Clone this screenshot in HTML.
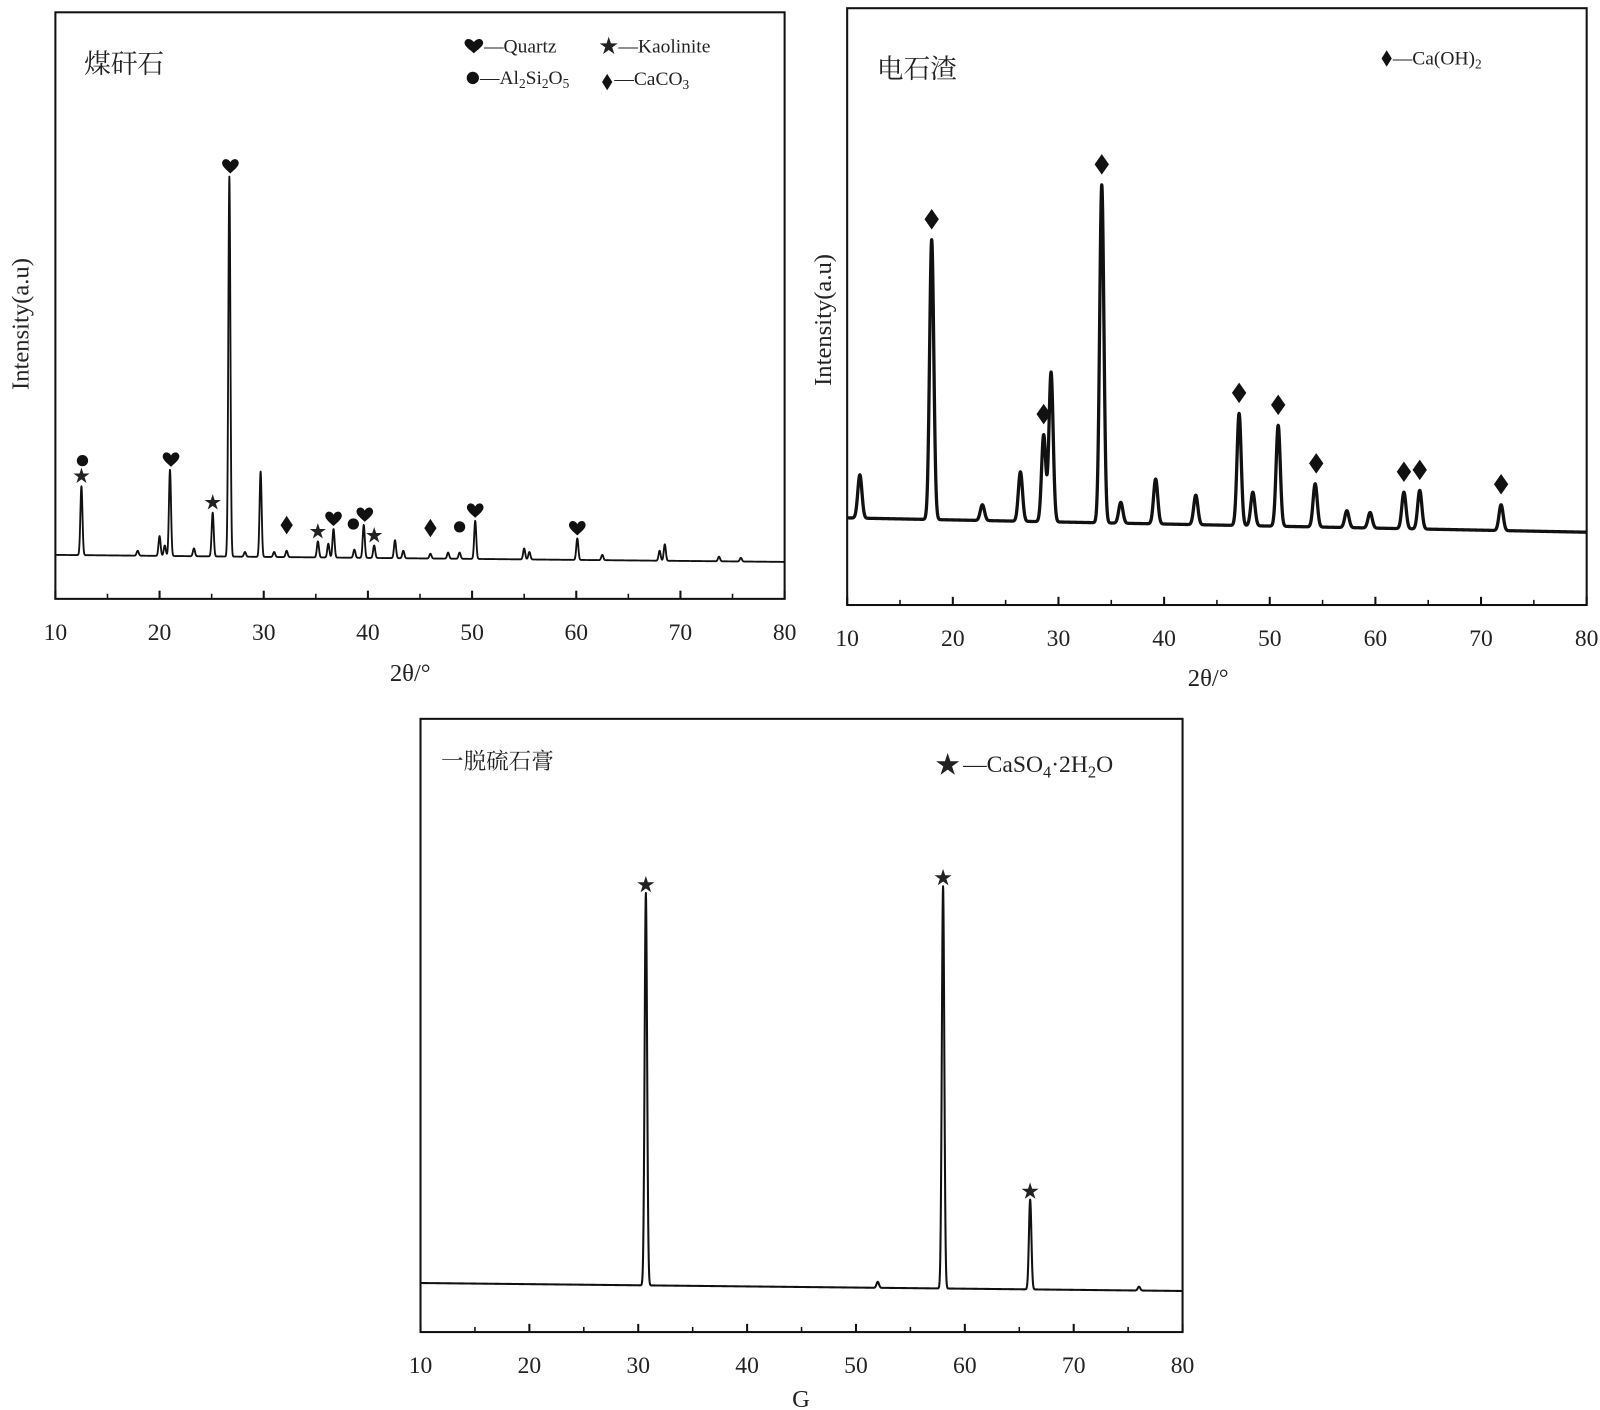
<!DOCTYPE html>
<html><head><meta charset="utf-8">
<style>
html,body{margin:0;padding:0;background:#fff;width:1600px;height:1410px;overflow:hidden}
svg{display:block}
text{font-family:"Liberation Serif","Noto Serif CJK SC",serif;fill:#222}
</style></head>
<body>
<svg id="fig" width="1600" height="1410" viewBox="0 0 1560 1375" preserveAspectRatio="none" xmlns="http://www.w3.org/2000/svg">
</svg>
<script>
// ---------- Panel 1: 煤矸石 ----------
const p1PeakPos = [12.5,17.9,20.0,20.5,21.0,23.3,25.1,26.7,28.2,29.7,31.0,32.2,35.2,36.2,36.7,38.7,39.6,40.6,42.6,43.4,46.0,47.7,48.8,50.3,55.0,55.5,60.1,62.5,68.0,68.5,73.7,75.8];
const p1PeakInt = [19.2,8.2,10.7,9.1,22.0,8.6,14.7,72.0,8.0,21.7,8.0,8.2,9.8,9.4,11.9,8.4,12.6,9.1,10.0,8.2,7.7,7.9,7.9,13.3,8.6,8.0,10.3,7.5,8.2,9.3,7.2,7.0];
const p1Base = [7.5,6.3];
const p1MarkPos = [12.5,12.6,21.1,25.1,26.8,32.2,35.2,36.7,38.6,39.7,40.6,46.0,48.8,50.3,60.1];
const p1MarkType = ['star','circle','heart','star','heart','diamond','star','heart','circle','heart','star','diamond','circle','heart','heart'];
const p1MarkStack = [0,1,0,0,0,1,0,0,1,0,0,1,1,0,0];
// ---------- Panel 2: 电石渣 ----------
const p2PeakPos = [11.2,18.0,22.8,26.4,28.6,29.3,34.1,35.9,39.2,43.0,47.1,48.4,50.8,54.3,57.3,59.5,62.7,64.2,71.9];
const p2PeakInt = [21.8,61.2,16.8,22.3,28.5,39.0,70.4,17.2,21.1,18.4,32.1,18.9,30.1,20.3,15.8,15.5,18.9,19.2,16.8];
const p2Base = [14.6,12.2];
const p2MarkPos = [18.0,28.6,34.1,47.1,50.8,54.4,62.7,64.2,71.9];
// ---------- Panel 3: 脱硫石膏 ----------
const p3PeakPos = [30.7,52.0,58.0,66.0,76.0];
const p3PeakInt = [71.6,8.2,72.7,21.6,7.4];
const p3Base = [8.0,6.7];
const p3MarkPos = [30.7,58.0,66.0];
// ---------- ticks ----------
const xTicks = [10,20,30,40,50,60,70,80];
const xMinor = [15,25,35,45,55,65,75];

const NS='http://www.w3.org/2000/svg';
const svg=document.getElementById('fig');
function mk(tag,attrs,parent){const e=document.createElementNS(NS,tag);for(const k in attrs)e.setAttribute(k,attrs[k]);(parent||svg).appendChild(e);return e;}

function panel(cfg){
  const g=mk('g',{});
  
  
  const X=v=>cfg.x0+(v-10)/70*(cfg.x1-cfg.x0);
  const Y=v=>cfg.y1-v/100*(cfg.y1-cfg.y0);
  const base=v=>cfg.base[0]+(cfg.base[1]-cfg.base[0])*(v-10)/70;
  const f=v=>{let s=base(v);for(let i=0;i<cfg.pos.length;i++){const b=base(cfg.pos[i]);const a=cfg.int[i]-b;const d=(v-cfg.pos[i])/cfg.w;s+=a*Math.exp(-d*d);}return s;};
  let d='';
  for(let v=10;v<=80.0001;v+=0.02){d+=(d?'L':'M')+X(v).toFixed(2)+','+Y(f(v)).toFixed(2);}
  const line=mk('path',{d:d,fill:'none',stroke:'#111','stroke-width':cfg.sw,'stroke-linejoin':'round'},g);
  
  
  const fr=mk('rect',{x:cfg.x0,y:cfg.y0,width:cfg.x1-cfg.x0,height:cfg.y1-cfg.y0,fill:'none',stroke:'#111','stroke-width':2},g);
  
  
  xTicks.forEach(t=>{
    mk('line',{x1:X(t),x2:X(t),y1:cfg.y1,y2:cfg.y1-8,stroke:'#111','stroke-width':2},g);
    const tl=mk('text',{x:X(t),y:cfg.y1+40,'text-anchor':'middle','font-size':23},g);
    tl.textContent=t;
    
    
  });
  xMinor.forEach(t=>{mk('line',{x1:X(t),x2:X(t),y1:cfg.y1,y2:cfg.y1-5,stroke:'#111','stroke-width':1.5},g);});
  cfg.mpos.forEach((p,i)=>{
    const type=cfg.mtype?cfg.mtype[i]:cfg.mdef;
    const stack=cfg.mstack?cfg.mstack[i]:0;
    let k=0,best=1e9;cfg.pos.forEach((q,j)=>{if(Math.abs(q-p)<best){best=Math.abs(q-p);k=j;}});
    const cx=X(p);const cy=Y(f(cfg.pos[k]))-cfg.gap-stack*15;
    let m;
    if(type==='heart'){m=mk('path',{d:`M${cx},${cy+7} C${cx-3},${cy+4} ${cx-9},${cy} ${cx-8},${cy-4} C${cx-7},${cy-8} ${cx-2},${cy-8} ${cx},${cy-4} C${cx+2},${cy-8} ${cx+7},${cy-8} ${cx+8},${cy-4} C${cx+9},${cy} ${cx+3},${cy+4} ${cx},${cy+7}Z`,fill:'#111'},g);}
    else if(type==='circle'){m=mk('circle',{cx:cx,cy:cy,r:5.5,fill:'#111'},g);}
    else if(type==='diamond'){const w=cfg.dw,h=cfg.dh;m=mk('polygon',{points:`${cx},${cy-h} ${cx+w},${cy} ${cx},${cy+h} ${cx-w},${cy}`,fill:'#111'},g);}
    else {m=mk('text',{x:cx,y:cy+6,'text-anchor':'middle','font-size':cfg.starSize||17,'font-family':'DejaVu Sans'},g);m.textContent='★';m.setAttribute('fill','#111');}
    
    
  });
  return g;
}

panel({name:'panel-coal-gangue',x0:54,x1:765,y0:12,y1:584,pos:p1PeakPos,int:p1PeakInt,base:p1Base,w:0.14,sw:1.8,mpos:p1MarkPos,mtype:p1MarkType,mstack:p1MarkStack,gap:10,dw:6,dh:9});
panel({name:'panel-carbide-slag',x0:826,x1:1547,y0:8,y1:590,pos:p2PeakPos,int:p2PeakInt,base:p2Base,w:0.28,sw:3.2,mpos:p2MarkPos,mdef:'diamond',gap:20,dw:7,dh:10});
panel({name:'panel-desulfurized-gypsum',x0:410,x1:1153,y0:701,y1:1299,pos:p3PeakPos,int:p3PeakInt,base:p3Base,w:0.16,sw:2,mpos:p3MarkPos,mdef:'star',gap:8,starSize:18});

function txt(s,attrs,name){const t=mk('text',attrs);t.innerHTML=s;return t;}
txt('煤矸石',{x:82,y:71,'font-size':26},'panel-title');
txt('电石渣',{x:855,y:76,'font-size':26},'panel-title');
txt('一脱硫石膏',{x:430,y:750,'font-size':22},'panel-title');
txt('2θ/°',{x:400,y:664,'text-anchor':'middle','font-size':24},'x-axis-title');
txt('2θ/°',{x:1178,y:669,'text-anchor':'middle','font-size':24},'x-axis-title');
txt('G',{x:781,y:1372,'text-anchor':'middle','font-size':24},'x-axis-title');
txt('Intensity(a.u)',{x:0,y:0,transform:'translate(28,316) rotate(-90)','text-anchor':'middle','font-size':24},'y-axis-title');
txt('Intensity(a.u)',{x:0,y:0,transform:'translate(810,312) rotate(-90)','text-anchor':'middle','font-size':24},'y-axis-title');
const lg1=mk('g',{});


mk('path',{d:'M462,52 C459,49 452,45 453,41 C454,37 459,37 462,41 C465,37 470,37 471,41 C472,45 465,49 462,52Z',fill:'#111'},lg1);
txt('—Quartz',{x:472,y:51,'font-size':19},'legend-entry-quartz');
txt('★—Kaolinite',{x:584,y:51,'font-size':19},'legend-entry-kaolinite');
mk('circle',{cx:461,cy:76,r:6,fill:'#111'},lg1);
txt('—Al<tspan font-size="13" dy="4">2</tspan><tspan dy="-4">Si</tspan><tspan font-size="13" dy="4">2</tspan><tspan dy="-4">O</tspan><tspan font-size="13" dy="4">5</tspan>',{x:468,y:82,'font-size':19},'legend-entry-al2si2o5');
mk('polygon',{points:'592,72 597,80 592,88 587,80',fill:'#111'},lg1);
txt('—CaCO<tspan font-size="13" dy="4">3</tspan>',{x:599,y:83,'font-size':19},'legend-entry-caco3');
mk('polygon',{points:'1352,49 1357,57 1352,65 1347,57',fill:'#111'});
txt('—Ca(OH)<tspan font-size="13" dy="4">2</tspan>',{x:1358,y:63,'font-size':19},'legend-entry-caoh2');
txt('★',{x:912,y:754,'font-size':24,'font-family':'DejaVu Sans'},'legend-star');
txt('—CaSO<tspan font-size="16" dy="5">4</tspan><tspan dy="-5">·2H</tspan><tspan font-size="16" dy="5">2</tspan><tspan dy="-5">O</tspan>',{x:939,y:753,'font-size':23},'legend-entry-gypsum');
</script>
</body></html>
